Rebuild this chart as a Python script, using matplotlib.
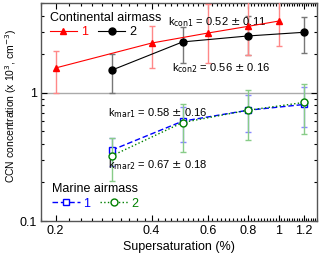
import numpy as np
import matplotlib.pyplot as plt
from matplotlib.lines import Line2D
from matplotlib.ticker import MultipleLocator, FixedLocator, NullFormatter, LogLocator

plt.rcParams["font.family"] = ["Liberation Sans", "DejaVu Sans"]
plt.rcParams["font.size"] = 9

# continental airmass
con1_ss = [0.2, 0.4, 0.6, 0.8, 1.0]
con1_n = [1.56, 2.44, 2.92, 3.29, 3.62]
con1_lo = [1.0, 1.56, 1.70, 1.96, 2.31]
con1_hi = [2.12, 3.29, 4.9, 5.5, 5.8]

con2_ss = [0.3, 0.5, 0.8, 1.2]
con2_n = [1.50, 2.49, 2.77, 2.96]
con2_lo = [1.0, 1.72, 1.98, 2.05]
con2_hi = [2.02, 3.26, 4.0, 3.9]

# marine airmass
mar1_ss = [0.3, 0.5, 0.8, 1.2]
mar1_n = [0.357, 0.60, 0.73, 0.81]
mar1_lo = [0.268, 0.414, 0.49, 0.54]
mar1_hi = [0.44, 0.775, 0.956, 1.10]

mar2_ss = [0.3, 0.5, 0.8, 1.2]
mar2_n = [0.322, 0.586, 0.73, 0.84]
mar2_lo = [0.206, 0.346, 0.43, 0.48]
mar2_hi = [0.44, 0.81, 1.05, 1.18]


def err(n, lo, hi):
    n = np.array(n)
    return [n - np.array(lo), np.array(hi) - n]


fig = plt.figure(figsize=(3.2, 2.57), dpi=100)
ax = fig.add_axes([0.128, 0.140, 0.863, 0.848])

ax.axhline(1, color="#aaaaaa", lw=1, zorder=1)

ax.errorbar(mar2_ss, mar2_n, yerr=err(mar2_n, mar2_lo, mar2_hi), color="green", ls=":",
            lw=1, marker="o", ms=5, mfc="white", mec="green", mew=1,
            ecolor="#88cc88", elinewidth=1, capsize=2.5, zorder=3)
ax.errorbar(mar1_ss, mar1_n, yerr=err(mar1_n, mar1_lo, mar1_hi), color="blue", ls=(0, (4, 2)),
            lw=1, marker="s", ms=4.5, mfc="white", mec="blue", mew=1,
            ecolor="#8888ff", elinewidth=1, capsize=2.5, zorder=2)
ax.errorbar(con2_ss, con2_n, yerr=err(con2_n, con2_lo, con2_hi), color="black", ls="-",
            lw=0.8, marker="o", ms=5, mfc="black", mec="black",
            ecolor="#777777", elinewidth=1, capsize=2.5, zorder=3)
ax.errorbar(con1_ss, con1_n, yerr=err(con1_n, con1_lo, con1_hi), color="red", ls="-",
            lw=0.8, marker="^", ms=5, mfc="red", mec="red",
            ecolor="#ff8888", elinewidth=1, capsize=2.5, zorder=3)

ax.set_xscale("log")
ax.set_yscale("log")
ax.set_xlim(0.18, 1.32)
ax.set_ylim(0.1, 5)

ax.xaxis.set_major_locator(FixedLocator([0.2, 0.4, 0.6, 0.8, 1.0, 1.2]))
ax.xaxis.set_minor_locator(MultipleLocator(0.02))
ax.set_xticklabels(["0.2", "0.4", "0.6", "0.8", "1", "1.2"])
ax.xaxis.set_minor_formatter(NullFormatter())
ax.yaxis.set_major_locator(FixedLocator([0.1, 1]))
ax.set_yticklabels(["0.1", "1"])
ax.yaxis.set_minor_locator(LogLocator(subs=np.arange(2, 10)))
ax.yaxis.set_minor_formatter(NullFormatter())
ax.tick_params(which="both", direction="in", top=True, right=True, labelsize=9, width=0.8)
ax.tick_params(which="major", length=4, pad=3)
ax.tick_params(which="minor", length=2)
for s in ax.spines.values():
    s.set_color("#555555")
    s.set_linewidth(1)

ax.set_xlabel("Supersaturation (%)", fontsize=9, labelpad=3)
ax.set_ylabel("CCN concentration (x 10$^3$, cm$^{-3}$)", fontsize=7.5)
ax.yaxis.set_label_coords(-0.078, 0.53)

ax.text(0.451, 3.54, r"k$_{\rm con1}$ = 0.52 $\pm$ 0.11", fontsize=8, va="center")
ax.text(0.464, 1.55, r"k$_{\rm con2}$ = 0.56 $\pm$ 0.16", fontsize=8, va="center")
ax.text(0.292, 0.693, r"k$_{\rm mar1}$ = 0.58 $\pm$ 0.16", fontsize=8, va="center")
ax.text(0.292, 0.272, r"k$_{\rm mar2}$ = 0.67 $\pm$ 0.18", fontsize=8, va="center")

h_con = [Line2D([], [], color="red", marker="^", ms=5, lw=0.8),
         Line2D([], [], color="black", marker="o", ms=5, lw=0.8)]
leg1 = ax.legend(h_con, ["1", "2"], title="Continental airmass", ncol=2, loc="upper left",
                 frameon=False, fontsize=9, title_fontsize=9, labelcolor=["red", "black"],
                 handlelength=2.2, handletextpad=0.3, columnspacing=0.8,
                 borderaxespad=0.3, borderpad=0.4, labelspacing=0.2, alignment="left")
ax.add_artist(leg1)

h_mar = [Line2D([], [], color="blue", ls=(0, (4, 2)), marker="s", ms=4.5, mfc="white", lw=1),
         Line2D([], [], color="green", ls=":", marker="o", ms=5, mfc="white", lw=1)]
ax.legend(h_mar, ["1", "2"], title="Marine airmass", ncol=2, loc="lower left",
          frameon=False, fontsize=9, title_fontsize=9, labelcolor=["blue", "green"],
          handlelength=2.2, handletextpad=0.3, columnspacing=0.8,
          borderaxespad=0.3, borderpad=0.6, labelspacing=0.2, alignment="left")

fig.savefig("out.png", dpi=100)
